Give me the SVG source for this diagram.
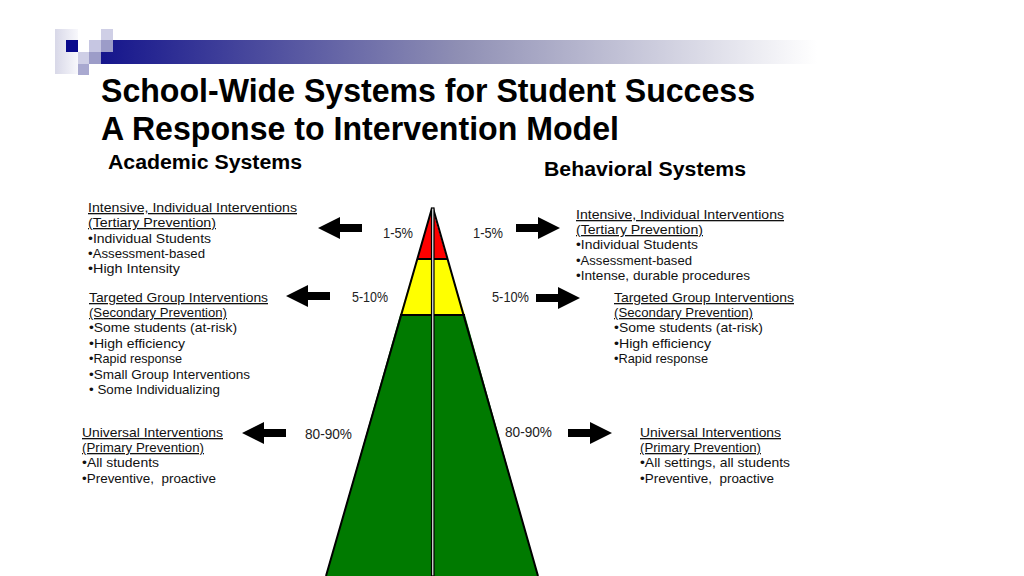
<svg xmlns="http://www.w3.org/2000/svg" width="1024" height="576" viewBox="0 0 1024 576">
<style>
text{font-family:"Liberation Sans",Arial,sans-serif;fill:#000}
.t{font-size:33px;font-weight:bold}
.h{font-size:20px;font-weight:bold}
.b{font-size:13px;fill:#111;white-space:pre}
.p{font-size:14px;fill:#222}
.u{text-decoration:underline}
.e{stroke:#000;stroke-width:2}
</style>
<defs>
<linearGradient id="bar" x1="0" x2="1" y1="0" y2="0">
<stop offset="0" stop-color="#15158c"/><stop offset=".5" stop-color="#8f8fb4"/><stop offset="1" stop-color="#fff"/>
</linearGradient>
<linearGradient id="sq" x1="0" x2="1" y1="0" y2="0"><stop offset="0" stop-color="#d8d8e8"/><stop offset="1" stop-color="#f8f8fc"/></linearGradient>
<path id="arrow" d="M44 -4H22V-11L0 0L22 11V4H44Z"/>
</defs>
<g id="banner">
<rect x="101" y="40" width="716" height="24" fill="url(#bar)"/>
<rect x="55" y="29" width="23" height="45" fill="url(#sq)"/>
<rect x="66" y="40" width="12" height="12" fill="#0a0a8c"/>
<rect x="89" y="40" width="12" height="12" fill="#c6c6e2"/>
<rect x="101" y="29" width="12" height="11" fill="#cfcfe6"/>
<rect x="101" y="40" width="12" height="12" fill="#9c9cc8"/>
<rect x="89" y="52" width="12" height="12" fill="#9c9cc8"/>
<rect x="78" y="52" width="11" height="12" fill="#cfcfe6"/>
<rect x="78" y="64" width="11" height="11" fill="#a9a9d0"/>
</g>
<g id="titles">
<text class="t" x="101" y="102" textLength="654" lengthAdjust="spacingAndGlyphs">School-Wide Systems for Student Success</text>
<text class="t" x="101" y="140" textLength="518" lengthAdjust="spacingAndGlyphs">A Response to Intervention Model</text>
<text class="h" x="108" y="169" textLength="194" lengthAdjust="spacingAndGlyphs">Academic Systems</text>
<text class="h" x="544" y="176" textLength="202" lengthAdjust="spacingAndGlyphs">Behavioral Systems</text>
</g>
<g id="pyramid">
<polygon points="432,208 417,259 447,259" fill="#f00"/>
<polygon points="417,259 447,259 465,315 400,315" fill="#ff0"/>
<polygon points="400,315 465,315 538,576 326,576" fill="#007a00"/>
<path class="e" fill="none" d="M432 208L326 576M433 208L538 576M417 259H447M400 315H465"/>
<rect x="431.500" y="208" width="2.500" height="368" fill="#ddd" stroke="#000" stroke-width="1.200"/>
</g>
<g id="percent-labels">
<text class="p" x="383" y="238" textLength="30" lengthAdjust="spacingAndGlyphs">1-5%</text>
<text class="p" x="473" y="238" textLength="30" lengthAdjust="spacingAndGlyphs">1-5%</text>
<text class="p" x="352" y="302" textLength="36" lengthAdjust="spacingAndGlyphs">5-10%</text>
<text class="p" x="492" y="302" textLength="37" lengthAdjust="spacingAndGlyphs">5-10%</text>
<text class="p" x="305" y="439" textLength="47" lengthAdjust="spacingAndGlyphs">80-90%</text>
<text class="p" x="505" y="437" textLength="47" lengthAdjust="spacingAndGlyphs">80-90%</text>
</g>
<g id="connectors">
<use href="#arrow" transform="translate(318,228)"/>
<use href="#arrow" transform="translate(560,228) scale(-1,1)"/>
<use href="#arrow" transform="translate(286,296)"/>
<use href="#arrow" transform="translate(580,298) scale(-1,1)"/>
<use href="#arrow" transform="translate(242,433)"/>
<use href="#arrow" transform="translate(612,433) scale(-1,1)"/>
</g>
<g id="tertiary-academic">
<text class="b u" x="88" y="212" textLength="209" lengthAdjust="spacingAndGlyphs">Intensive, Individual Interventions</text>
<text class="b u" x="88" y="227" textLength="128" lengthAdjust="spacingAndGlyphs">(Tertiary Prevention)</text>
<text class="b" x="88" y="243" textLength="123" lengthAdjust="spacingAndGlyphs">•Individual Students</text>
<text class="b" x="88" y="258" textLength="117" lengthAdjust="spacingAndGlyphs">•Assessment-based</text>
<text class="b" x="88" y="273" textLength="92" lengthAdjust="spacingAndGlyphs">•High Intensity</text>
</g>
<g id="secondary-academic">
<text class="b u" x="89" y="302" textLength="179" lengthAdjust="spacingAndGlyphs">Targeted Group Interventions</text>
<text class="b u" x="89" y="317" textLength="138" lengthAdjust="spacingAndGlyphs">(Secondary Prevention)</text>
<text class="b" x="89" y="332" textLength="148" lengthAdjust="spacingAndGlyphs">•Some students (at-risk)</text>
<text class="b" x="89" y="348" textLength="96" lengthAdjust="spacingAndGlyphs">•High efficiency</text>
<text class="b" x="89" y="363" textLength="93" lengthAdjust="spacingAndGlyphs">•Rapid response</text>
<text class="b" x="89" y="379" textLength="161" lengthAdjust="spacingAndGlyphs">•Small Group Interventions</text>
<text class="b" x="89" y="394" textLength="131" lengthAdjust="spacingAndGlyphs">• Some Individualizing</text>
</g>
<g id="primary-academic">
<text class="b u" x="82" y="437" textLength="141" lengthAdjust="spacingAndGlyphs">Universal Interventions</text>
<text class="b u" x="82" y="452" textLength="122" lengthAdjust="spacingAndGlyphs">(Primary Prevention)</text>
<text class="b" x="82" y="467" textLength="77" lengthAdjust="spacingAndGlyphs">•All students</text>
<text class="b" x="82" y="483" textLength="134" lengthAdjust="spacingAndGlyphs">•Preventive,  proactive</text>
</g>
<g id="tertiary-behavioral">
<text class="b u" x="576" y="219" textLength="208" lengthAdjust="spacingAndGlyphs">Intensive, Individual Interventions</text>
<text class="b u" x="576" y="234" textLength="127" lengthAdjust="spacingAndGlyphs">(Tertiary Prevention)</text>
<text class="b" x="576" y="249" textLength="122" lengthAdjust="spacingAndGlyphs">•Individual Students</text>
<text class="b" x="576" y="265" textLength="116" lengthAdjust="spacingAndGlyphs">•Assessment-based</text>
<text class="b" x="576" y="280" textLength="174" lengthAdjust="spacingAndGlyphs">•Intense, durable procedures</text>
</g>
<g id="secondary-behavioral">
<text class="b u" x="614" y="302" textLength="180" lengthAdjust="spacingAndGlyphs">Targeted Group Interventions</text>
<text class="b u" x="614" y="317" textLength="139" lengthAdjust="spacingAndGlyphs">(Secondary Prevention)</text>
<text class="b" x="614" y="332" textLength="149" lengthAdjust="spacingAndGlyphs">•Some students (at-risk)</text>
<text class="b" x="614" y="348" textLength="97" lengthAdjust="spacingAndGlyphs">•High efficiency</text>
<text class="b" x="614" y="363" textLength="94" lengthAdjust="spacingAndGlyphs">•Rapid response</text>
</g>
<g id="primary-behavioral">
<text class="b u" x="640" y="437" textLength="141" lengthAdjust="spacingAndGlyphs">Universal Interventions</text>
<text class="b u" x="640" y="452" textLength="121" lengthAdjust="spacingAndGlyphs">(Primary Prevention)</text>
<text class="b" x="640" y="467" textLength="150" lengthAdjust="spacingAndGlyphs">•All settings, all students</text>
<text class="b" x="640" y="483" textLength="134" lengthAdjust="spacingAndGlyphs">•Preventive,  proactive</text>
</g>
</svg>
